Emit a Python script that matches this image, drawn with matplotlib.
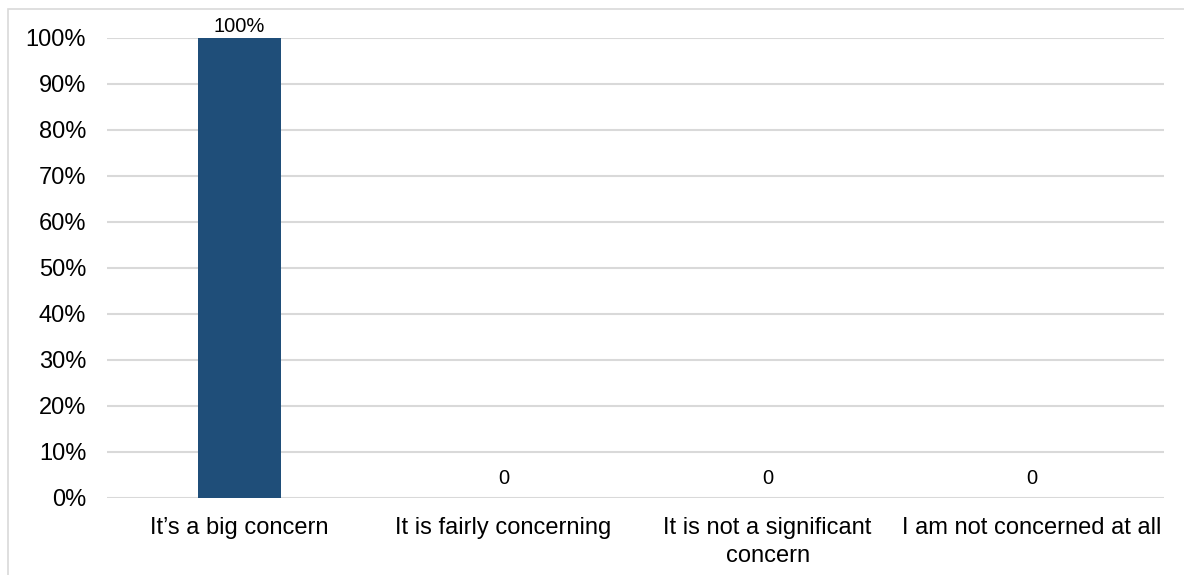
import matplotlib
matplotlib.use("Agg")
import matplotlib.pyplot as plt
from matplotlib.patches import Rectangle
from matplotlib.ticker import PercentFormatter

categories = ["It\u2019s a big concern", "It is fairly concerning",
              "It is not a significant\nconcern", "I am not concerned at all"]
values = [1.0, 0.0, 0.0, 0.0]
value_labels = ["100%", "0", "0", "0"]
yticks = [0, 0.1, 0.2, 0.3, 0.4, 0.5, 0.6, 0.7, 0.8, 0.9, 1.0]

plt.rcParams['font.family'] = ['Liberation Sans', 'DejaVu Sans']

W, H = 1184, 575
fig = plt.figure(figsize=(W / 100, H / 100), dpi=100)
ax = fig.add_axes([107 / W, 1 - 498 / H, (1164 - 107) / W, (498 - 38) / H])

x = list(range(len(categories)))
bars = ax.bar(x, values, width=0.315, color="#1F4E79", zorder=3)
ax.set_xlim(-0.5, len(categories) - 0.5)
ax.set_ylim(0, 1.0)
ax.set_yticks(yticks)
ax.yaxis.set_major_formatter(PercentFormatter(1.0, decimals=0))
ax.set_xticks(x)
ax.set_xticklabels(categories, fontsize=17, linespacing=1.3)
ax.tick_params(axis='y', labelsize=17, length=0, pad=15)
ax.tick_params(axis='x', length=0, pad=14)
ax.grid(axis='y', color="#D9D9D9", linewidth=1.5, zorder=0)
ax.set_axisbelow(True)
for s in ax.spines.values():
    s.set_visible(False)

for xi, v, lab in zip(x, values, value_labels):
    off = 1.5 if v > 0 else 7
    ax.annotate(lab, (xi, v), xytext=(0, off), textcoords="offset points",
                ha="center", va="bottom", fontsize=14.5, color="black")

fig.patches.append(Rectangle((8 / W, -0.1), 1.2, 1 - 9 / H + 0.1, transform=fig.transFigure,
                             fill=False, edgecolor="#D9D9D9", linewidth=1.2, figure=fig))

fig.savefig("out.png", dpi=100, facecolor="white")
